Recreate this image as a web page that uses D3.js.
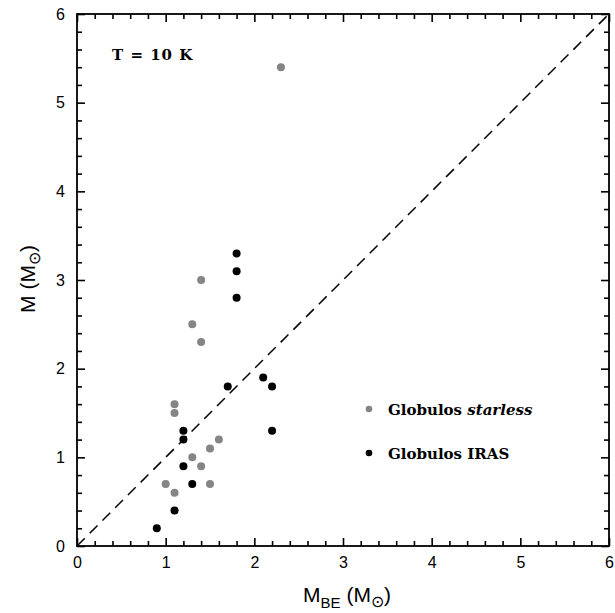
<!DOCTYPE html>
<html><head><meta charset="utf-8">
<script src="https://cdn.jsdelivr.net/npm/d3@7"></script>
<style>body{margin:0;background:#fff}</style>
</head><body>
<svg id="c" width="615" height="613"></svg>
<script>
const starlessX = [2.3, 1.4, 1.3, 1.4, 1.1, 1.1, 1.6, 1.5, 1.3, 1.4, 1.0, 1.1, 1.5];
const starlessY = [5.4, 3.0, 2.5, 2.3, 1.6, 1.5, 1.2, 1.1, 1.0, 0.9, 0.7, 0.6, 0.7];
const irasX = [0.9, 1.1, 1.2, 1.3, 1.2, 1.2, 1.7, 2.2, 2.2, 2.1, 1.8, 1.8, 1.8];
const irasY = [0.2, 0.4, 0.9, 0.7, 1.2, 1.3, 1.8, 1.8, 1.3, 1.9, 3.3, 3.1, 2.8];
const tickValues = [0, 1, 2, 3, 4, 5, 6];
const legendLabels = ["Globulos ", "Globulos IRAS"];

const svg = d3.select("#c");
const L = 77, R = 609, T = 14, B = 546;
const x = d3.scaleLinear().domain([0, 6]).range([L, R]);
const y = d3.scaleLinear().domain([0, 6]).range([B, T]);
const minor = d3.range(0, 6.01, 0.2).filter(v => Math.abs(v - Math.round(v)) > 1e-6);

function styleAxis(g) {
  g.select(".domain").remove();
  g.selectAll("line").attr("stroke", "#000").attr("stroke-width", 1.6);
  g.selectAll("text").attr("font-family", "Liberation Sans, Arial, sans-serif").attr("font-size", 16).attr("fill", "#000");
}
// bottom
svg.append("g").attr("transform", `translate(0,${B})`)
  .call(d3.axisBottom(x).tickValues(tickValues).tickFormat(d3.format("d")).tickSizeInner(-8).tickSizeOuter(0).tickPadding(11))
  .call(styleAxis);
svg.append("g").attr("transform", `translate(0,${B})`)
  .call(d3.axisBottom(x).tickValues(minor).tickFormat("").tickSizeInner(-5).tickSizeOuter(0)).call(styleAxis);
// top
svg.append("g").attr("transform", `translate(0,${T})`)
  .call(d3.axisTop(x).tickValues(tickValues).tickFormat("").tickSizeInner(-8).tickSizeOuter(0)).call(styleAxis);
svg.append("g").attr("transform", `translate(0,${T})`)
  .call(d3.axisTop(x).tickValues(minor).tickFormat("").tickSizeInner(-5).tickSizeOuter(0)).call(styleAxis);
// left
svg.append("g").attr("transform", `translate(${L},0)`)
  .call(d3.axisLeft(y).tickValues(tickValues).tickFormat(d3.format("d")).tickSizeInner(-8).tickSizeOuter(0).tickPadding(12))
  .call(styleAxis);
svg.append("g").attr("transform", `translate(${L},0)`)
  .call(d3.axisLeft(y).tickValues(minor).tickFormat("").tickSizeInner(-5).tickSizeOuter(0)).call(styleAxis);
// right
svg.append("g").attr("transform", `translate(${R},0)`)
  .call(d3.axisRight(y).tickValues(tickValues).tickFormat("").tickSizeInner(-8).tickSizeOuter(0)).call(styleAxis);
svg.append("g").attr("transform", `translate(${R},0)`)
  .call(d3.axisRight(y).tickValues(minor).tickFormat("").tickSizeInner(-5).tickSizeOuter(0)).call(styleAxis);

// frame
svg.append("rect").attr("x", L).attr("y", T).attr("width", R - L).attr("height", B - T)
  .attr("fill", "none").attr("stroke", "#000").attr("stroke-width", 1.8);

// dashed 1:1 line
svg.append("line").attr("x1", x(0)).attr("y1", y(0)).attr("x2", x(6)).attr("y2", y(6))
  .attr("stroke", "#000").attr("stroke-width", 1.5).attr("stroke-dasharray", "11,7");

// points
const starless = starlessX.map((v, i) => ({x: v, y: starlessY[i]}));
const iras = irasX.map((v, i) => ({x: v, y: irasY[i]}));
svg.append("g").selectAll("circle").data(starless).join("circle")
  .attr("cx", d => x(d.x)).attr("cy", d => y(d.y)).attr("r", 4).attr("fill", "#858585");
svg.append("g").selectAll("circle").data(iras).join("circle")
  .attr("cx", d => x(d.x)).attr("cy", d => y(d.y)).attr("r", 4).attr("fill", "#000");

const serif = "'DejaVu Serif', 'Liberation Serif', serif";
// T = 10 K
svg.append("text").attr("x", 112).attr("y", 60).attr("font-family", serif).attr("font-weight", "bold")
  .attr("font-size", 15).attr("letter-spacing", 1).attr("xml:space", "preserve").text("T = 10 K");

// legend
svg.append("circle").attr("cx", 369).attr("cy", 409).attr("r", 3.3).attr("fill", "#858585");
svg.append("circle").attr("cx", 369).attr("cy", 453).attr("r", 3.3).attr("fill", "#000");
const lt1 = svg.append("text").attr("x", 388).attr("y", 415).attr("font-family", serif).attr("font-weight", "bold").attr("font-size", 15);
lt1.append("tspan").text(legendLabels[0]);
lt1.append("tspan").attr("font-style", "italic").text("starless");
svg.append("text").attr("x", 388).attr("y", 459).attr("font-family", serif).attr("font-weight", "bold").attr("font-size", 15).text(legendLabels[1]);

// axis titles
const sans = "Liberation Sans, Arial, sans-serif";
const xt = svg.append("text").attr("x", 347).attr("y", 602).attr("text-anchor", "middle").attr("font-family", sans).attr("font-size", 21);
xt.append("tspan").text("M");
xt.append("tspan").attr("font-size", 15).attr("dy", 6).text("BE");
xt.append("tspan").attr("dy", -6).text(" (M");
xt.append("tspan").attr("font-size", 16).attr("dy", 5).text("⊙");
xt.append("tspan").attr("dy", -5).text(")");

const yt = svg.append("text").attr("transform", "translate(35,279) rotate(-90)").attr("text-anchor", "middle").attr("font-family", sans).attr("font-size", 21);
yt.append("tspan").text("M (M");
yt.append("tspan").attr("font-size", 16).attr("dy", 5).text("⊙");
yt.append("tspan").attr("dy", -5).text(")");
</script>
</body></html>
